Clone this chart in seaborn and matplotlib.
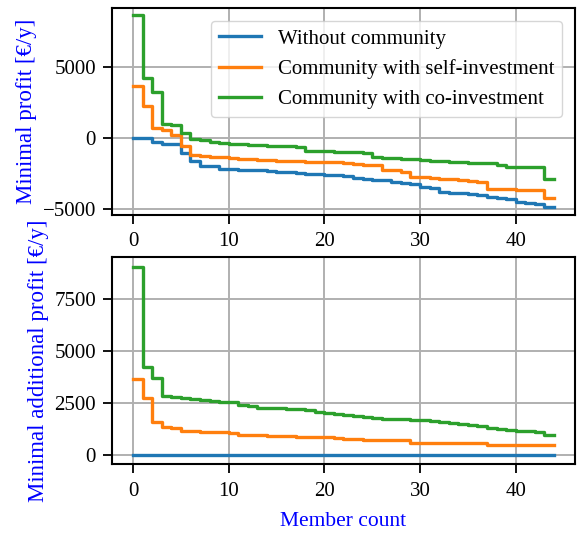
import numpy as np
import pandas as pd
import seaborn as sns
import matplotlib
matplotlib.use("Agg")
import matplotlib.pyplot as plt

# Dati (membri ordinati)
members = list(range(45))
series_names = ["Without community", "Community with self-investment", "Community with co-investment"]

profit_without = [-20, -20, -333, -452, -480, -1095, -1619, -1976, -1976, -2214,
                  -2230, -2250, -2270, -2300, -2330, -2405, -2450, -2524, -2560, -2600,
                  -2643, -2660, -2700, -2881, -2920, -2960, -3000, -3119, -3200, -3280,
                  -3476, -3550, -3833, -3880, -3930, -3980, -4050, -4190, -4250, -4300,
                  -4548, -4620, -4700, -4857, -4857]
profit_self = [3619, 2238, 690, 500, 214, -619, -1214, -1280, -1340, -1400,
               -1452, -1500, -1540, -1571, -1600, -1620, -1650, -1670, -1690, -1690,
               -1700, -1750, -1800, -1850, -1900, -1929, -2286, -2300, -2400, -2762,
               -2800, -2850, -2900, -2950, -3000, -3050, -3100, -3595, -3620, -3650,
               -3680, -3700, -3714, -4262, -4262]
profit_co = [8620, 4214, 3190, 929, 900, 286, -95, -200, -333, -380,
             -420, -460, -500, -540, -570, -590, -619, -650, -929, -950,
             -976, -1000, -1020, -1050, -1080, -1381, -1420, -1460, -1500, -1540,
             -1580, -1620, -1660, -1700, -1740, -1780, -1800, -1810, -1900, -2048,
             -2048, -2060, -2080, -2929, -2929]

add_without = [0] * 45
add_self = [3654, 2757, 1603, 1330, 1300, 1154, 1140, 1120, 1100, 1080,
            1042, 962, 950, 940, 930, 920, 900, 865, 860, 850,
            849, 800, 780, 760, 740, 721, 721, 710, 700, 593,
            593, 590, 590, 585, 585, 580, 580, 481, 481, 481,
            481, 480, 480, 480, 480]
add_co = [9054, 4247, 3686, 2853, 2800, 2724, 2690, 2644, 2600, 2560,
          2532, 2404, 2340, 2276, 2260, 2250, 2230, 2212, 2150, 2080,
          2003, 1960, 1900, 1850, 1811, 1780, 1750, 1730, 1715, 1700,
          1680, 1640, 1603, 1560, 1500, 1442, 1400, 1282, 1240, 1200,
          1154, 1140, 1120, 962, 962]


def long_df(a, b, c):
    return pd.DataFrame({
        "member": members * 3,
        "value": a + b + c,
        "series": [series_names[0]] * 45 + [series_names[1]] * 45 + [series_names[2]] * 45,
    })


plt.rcParams['font.family'] = ['Liberation Serif', 'DejaVu Serif']
plt.rcParams['font.size'] = 15
plt.rcParams['xtick.major.size'] = 6.5
plt.rcParams['ytick.major.size'] = 6.5
plt.rcParams['xtick.major.width'] = 1.3
plt.rcParams['ytick.major.width'] = 1.3
plt.rcParams['xtick.major.pad'] = 6
plt.rcParams['ytick.major.pad'] = 5

fig = plt.figure(figsize=(5.77, 5.34), dpi=100)
ax1 = fig.add_axes([0.194, 0.5974, 0.8025, 0.3871])
ax2 = fig.add_axes([0.194, 0.1305, 0.8025, 0.3875])

palette = ["#1f77b4", "#ff7f0e", "#2ca02c"]

"""Profitto minimo"""
sns.lineplot(data=long_df(profit_without, profit_self, profit_co), x="member", y="value",
             hue="series", palette=palette, drawstyle="steps-post", linewidth=2.4, ax=ax1)
ax1.set_xlabel("")
ax1.set_ylabel("Minimal profit [€/y]", color="blue", fontsize=16.5, labelpad=4)
ax1.set_yticks([-5000, 0, 5000])
ax1.set_ylim(-5450, 9100)
ax1.grid(True, color="#b0b0b0", linewidth=1.4)
ax1.legend(title=None, loc="upper right", fontsize=15, borderaxespad=0.6)

"""Profitto addizionale minimo"""
sns.lineplot(data=long_df(add_without, add_self, add_co), x="member", y="value",
             hue="series", palette=palette, drawstyle="steps-post", linewidth=2.4, ax=ax2,
             legend=False)
ax2.set_xlabel("Member count", color="blue", fontsize=15.5, labelpad=8)
ax2.set_ylabel("Minimal additional profit [€/y]", color="blue", fontsize=16.5, labelpad=4)
ax2.set_yticks([0, 2500, 5000, 7500])
ax2.set_ylim(-450, 9500)
ax2.grid(True, color="#b0b0b0", linewidth=1.4)

for ax in (ax1, ax2):
    ax.set_xlim(-2.2, 46.2)
    ax.set_xticks([0, 10, 20, 30, 40])
    for s in ax.spines.values():
        s.set_linewidth(1.5)

fig.savefig("out.png", dpi=100)
